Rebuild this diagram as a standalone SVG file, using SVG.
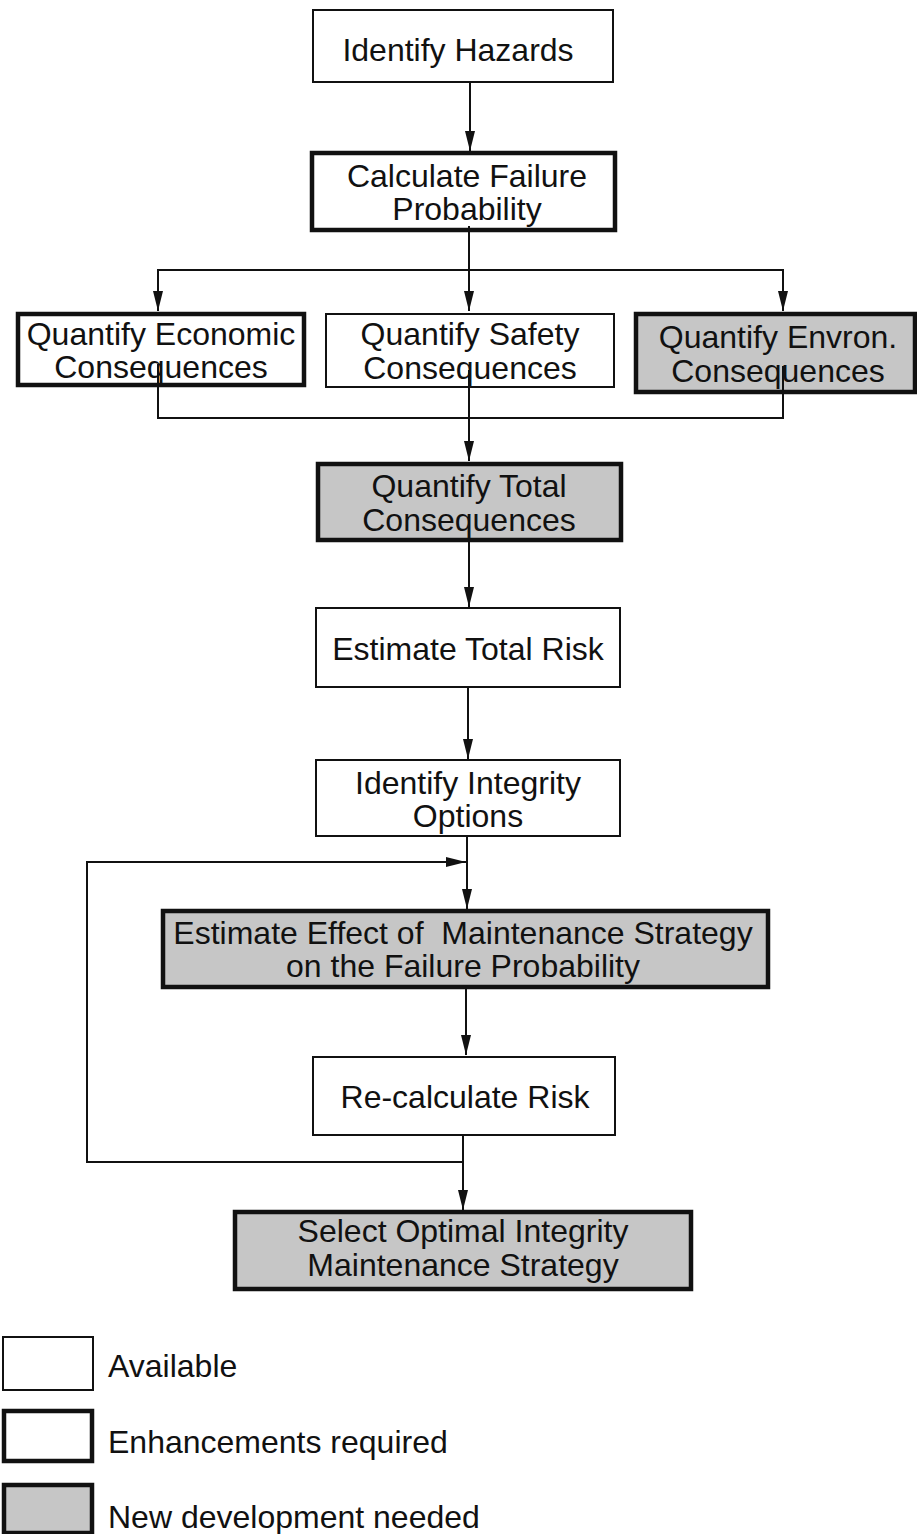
<svg xmlns="http://www.w3.org/2000/svg" width="917" height="1534" viewBox="0 0 917 1534">
  <style>
    .box { stroke: #111; }
    .avail { fill: #fff; stroke-width: 2; }
    .enh { fill: #fff; stroke-width: 4.5; }
    .newdev { fill: #c6c6c6; stroke-width: 4.5; }
    .lbl { font-family: "Liberation Sans", Arial, sans-serif; font-size: 32px; fill: #111; text-anchor: middle; }
    .leg { font-family: "Liberation Sans", Arial, sans-serif; font-size: 32px; fill: #111; }
    .wire { fill: none; stroke: #111; stroke-width: 2; }
  </style>
  <defs>
    <marker id="arrow" viewBox="0 0 20 10" refX="20" refY="5" markerWidth="20" markerHeight="10" markerUnits="userSpaceOnUse" orient="auto">
      <path d="M0,0 L20,5 L0,10 Z" fill="#111"/>
    </marker>
  </defs>

  <g id="identify-hazards">
    <rect class="box avail" x="313" y="10" width="300" height="72"/>
    <text class="lbl" x="458" y="61">Identify Hazards</text>
  </g>

  <g id="calc-failure">
    <rect class="box enh" x="312" y="153" width="303" height="77"/>
    <text class="lbl" x="467" y="187">Calculate Failure</text>
    <text class="lbl" x="467" y="220">Probability</text>
  </g>

  <g id="quantify-economic">
    <rect class="box enh" x="18" y="314" width="286" height="71"/>
    <text class="lbl" x="161" y="345">Quantify Economic</text>
    <text class="lbl" x="161" y="378">Consequences</text>
  </g>

  <g id="quantify-safety">
    <rect class="box avail" x="326" y="314" width="288" height="73"/>
    <text class="lbl" x="470" y="345">Quantify Safety</text>
    <text class="lbl" x="470" y="379">Consequences</text>
  </g>

  <g id="quantify-environ">
    <rect class="box newdev" x="636" y="314" width="279" height="78"/>
    <text class="lbl" x="778" y="348">Quantify Envron.</text>
    <text class="lbl" x="778" y="382">Consequences</text>
  </g>

  <g id="quantify-total">
    <rect class="box newdev" x="318" y="464" width="303" height="76"/>
    <text class="lbl" x="469" y="497">Quantify Total</text>
    <text class="lbl" x="469" y="531">Consequences</text>
  </g>

  <g id="estimate-total-risk">
    <rect class="box avail" x="316" y="608" width="304" height="79"/>
    <text class="lbl" x="468" y="660">Estimate Total Risk</text>
  </g>

  <g id="integrity-options">
    <rect class="box avail" x="316" y="760" width="304" height="76"/>
    <text class="lbl" x="468" y="794">Identify Integrity</text>
    <text class="lbl" x="468" y="827">Options</text>
  </g>

  <g id="estimate-effect">
    <rect class="box newdev" x="163" y="911" width="605" height="76"/>
    <text class="lbl" x="463" y="944" xml:space="preserve">Estimate Effect of  Maintenance Strategy</text>
    <text class="lbl" x="463" y="977">on the Failure Probability</text>
  </g>

  <g id="recalculate-risk">
    <rect class="box avail" x="313" y="1057" width="302" height="78"/>
    <text class="lbl" x="465" y="1108">Re-calculate Risk</text>
  </g>

  <g id="select-optimal">
    <rect class="box newdev" x="235" y="1212" width="456" height="77"/>
    <text class="lbl" x="463" y="1242">Select Optimal Integrity</text>
    <text class="lbl" x="463" y="1276">Maintenance Strategy</text>
  </g>

  <!-- connectors, drawn over the boxes so the stems show through the lower text lines -->
  <g id="connectors">
    <line class="wire" x1="470" y1="82" x2="470" y2="151" marker-end="url(#arrow)"/>
    <line class="wire" x1="469" y1="226" x2="469" y2="270"/>
    <polyline class="wire" points="158,311 158,270 783,270 783,311"/>
    <line class="wire" x1="158" y1="271" x2="158" y2="311" marker-end="url(#arrow)"/>
    <line class="wire" x1="469" y1="270" x2="469" y2="311" marker-end="url(#arrow)"/>
    <line class="wire" x1="783" y1="271" x2="783" y2="311" marker-end="url(#arrow)"/>
    <polyline class="wire" points="158,364 158,418 783,418 783,366"/>
    <line class="wire" x1="469" y1="370" x2="469" y2="461" marker-end="url(#arrow)"/>
    <line class="wire" x1="469" y1="518" x2="469" y2="607" marker-end="url(#arrow)"/>
    <line class="wire" x1="468" y1="687" x2="468" y2="759" marker-end="url(#arrow)"/>
    <line class="wire" x1="467" y1="836" x2="467" y2="909" marker-end="url(#arrow)"/>
    <polyline class="wire" points="463,1162 87,1162 87,862 466,862" marker-end="url(#arrow)"/>
    <line class="wire" x1="466" y1="987" x2="466" y2="1055" marker-end="url(#arrow)"/>
    <line class="wire" x1="463" y1="1135" x2="463" y2="1210" marker-end="url(#arrow)"/>
  </g>

  <!-- key -->
  <g id="legend">
    <rect class="box avail" x="3" y="1337" width="90" height="53"/>
    <text class="leg" x="108" y="1377">Available</text>
    <rect class="box enh" x="4" y="1411" width="88" height="50"/>
    <text class="leg" x="108" y="1453">Enhancements required</text>
    <rect class="box newdev" x="4" y="1485" width="88" height="48"/>
    <text class="leg" x="108" y="1528">New development needed</text>
  </g>
</svg>
